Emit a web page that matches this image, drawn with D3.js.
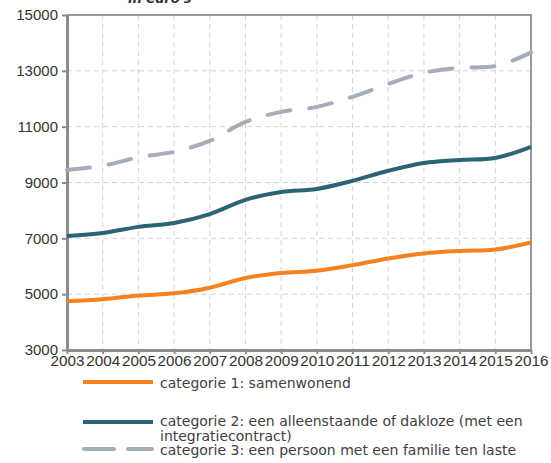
<!DOCTYPE html>
<html><head><meta charset="utf-8">
<script src="https://cdn.jsdelivr.net/npm/d3@7"></script>
<style>body{margin:0;background:#fff;} svg{display:block;}</style>
</head><body>
<svg id="c" width="551" height="463"></svg>
<script>
const years = [2003,2004,2005,2006,2007,2008,2009,2010,2011,2012,2013,2014,2015,2016];
const cat1 = [4750,4820,4950,5030,5230,5580,5760,5840,6040,6280,6460,6550,6600,6850];
const cat2 = [7085,7190,7410,7550,7870,8380,8660,8770,9060,9420,9700,9810,9880,10280];
const cat3 = [9450,9600,9900,10100,10490,11170,11530,11710,12070,12530,12930,13110,13170,13650];
const yTicks = [3000,5000,7000,9000,11000,13000,15000];
const seriesNames = ["categorie 1: samenwonend",
  "categorie 2: een alleenstaande of dakloze (met een|integratiecontract)",
  "categorie 3: een persoon met een familie ten laste"];
const colors = ["#F5821F","#2B6377","#A4AEBA"];

const svg = d3.select("#c");
const L=67,R=531,T=15,B=350;
const x = d3.scaleLinear().domain([2003,2016]).range([L,R]);
const y = d3.scaleLinear().domain([3000,15000]).range([B,T]);
const font = "'Liberation Sans', Arial, sans-serif";
const lfont = "'DejaVu Sans', Verdana, sans-serif";

// title (cut off at top as in the reference)
svg.append("text").attr("x",128).attr("y",3).attr("font-family",lfont)
  .attr("font-size",13).attr("font-style","italic").attr("font-weight","bold").attr("fill","#333").text("in euro's");

// grid
const g = svg.append("g");
g.selectAll(".hg").data(yTicks.slice(1,-1)).join("line")
  .attr("x1",L).attr("x2",R).attr("y1",d=>y(d)).attr("y2",d=>y(d))
  .attr("stroke","#d4d4d4").attr("stroke-width",1).attr("stroke-dasharray","5,4");
g.selectAll(".vg").data(years.slice(1,-1)).join("line")
  .attr("y1",T).attr("y2",B).attr("x1",d=>x(d)).attr("x2",d=>x(d))
  .attr("stroke","#d4d4d4").attr("stroke-width",1).attr("stroke-dasharray","5,4");

// frame top/right
svg.append("line").attr("x1",L).attr("x2",R+1).attr("y1",T).attr("y2",T).attr("stroke","#9a9a9a").attr("stroke-width",2);
svg.append("line").attr("x1",R).attr("x2",R).attr("y1",T).attr("y2",B).attr("stroke","#9a9a9a").attr("stroke-width",2);

// axes
const ya = svg.append("g").attr("transform",`translate(${L},0)`)
  .call(d3.axisLeft(y).tickValues(yTicks).tickSize(5).tickSizeOuter(0).tickFormat(d3.format("d")));
ya.select(".domain").attr("stroke","#8c8c8c").attr("stroke-width",3);
ya.selectAll(".tick line").attr("stroke","#8c8c8c").attr("stroke-width",2);
ya.selectAll(".tick text").attr("font-family",font).attr("font-size",15).attr("fill","#333").attr("x",-9);

const xa = svg.append("g").attr("transform",`translate(0,${B})`)
  .call(d3.axisBottom(x).tickValues(years).tickSize(4).tickSizeOuter(0).tickFormat(d3.format("d")));
xa.select(".domain").attr("stroke","#8c8c8c").attr("stroke-width",3);
xa.selectAll(".tick line").attr("stroke","#8c8c8c").attr("stroke-width",2);
xa.selectAll(".tick text").attr("font-family",font).attr("font-size",15).attr("fill","#333")
  .attr("y",5).attr("textLength",34).attr("lengthAdjust","spacingAndGlyphs");

// lines
const line = d3.line().x((d,i)=>x(years[i])).y(d=>y(d)).curve(d3.curveCatmullRom.alpha(0.5));
[cat1,cat2,cat3].forEach((s,k)=>{
  svg.append("path").attr("d",line(s)).attr("fill","none").attr("stroke",colors[k])
    .attr("stroke-width",4).attr("stroke-linejoin","round").attr("stroke-linecap",k==2?"round":"butt")
    .attr("stroke-dasharray",k==2?"23,19":null);
});

// legend
const leg = [{y:382,ty:[388]},{y:422,ty:[426,441]},{y:449,ty:[455]}];
leg.forEach((l,k)=>{
  svg.append("line").attr("x1",k==2?84:83).attr("x2",k==2?152:153).attr("y1",l.y).attr("y2",l.y)
    .attr("stroke",colors[k]).attr("stroke-width",4).attr("stroke-linecap",k==2?"round":"butt")
    .attr("stroke-dasharray",k==2?"30,14":null);
  const parts = seriesNames[k].split("|");
  parts.forEach((p,j)=>{
    svg.append("text").attr("x",160).attr("y",l.ty[j]).attr("font-family",lfont)
      .attr("font-size",14).attr("fill","#404040").text(p);
  });
});
</script>
</body></html>
